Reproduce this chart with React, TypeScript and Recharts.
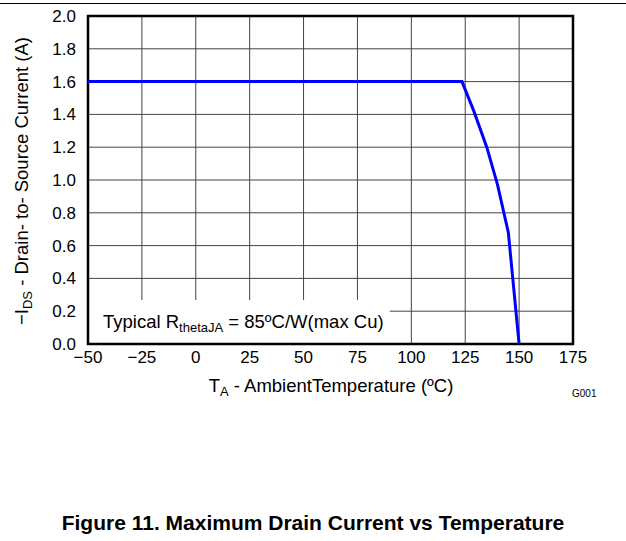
import { CartesianGrid, Line, LineChart, ReferenceArea, XAxis, YAxis } from "recharts"

const temperatures = [-50, 123.5, 129, 135, 140, 145, 150]
const drainCurrent = [1.6, 1.6, 1.42, 1.2, 0.97, 0.68, 0]
const xTicks = [-50, -25, 0, 25, 50, 75, 100, 125, 150, 175]
const yTicks = [0, 0.2, 0.4, 0.6, 0.8, 1.0, 1.2, 1.4, 1.6, 1.8, 2.0]

const data = temperatures.map((t, i) => ({ t, a: drainCurrent[i] }))

const font = "'Liberation Sans', Arial, Helvetica, sans-serif"

const fmtX = (v: number) => (v < 0 ? "\u2212" + Math.abs(v) : String(v))

export default function App() {
  return (
    <div style={{ position: "absolute", left: 0, top: 0, width: 626, height: 541, background: "#fff", fontFamily: font }}>
      <div style={{ position: "absolute", left: 0, top: 3, width: 626, height: 1, background: "#000" }} />
      <LineChart
        width={626}
        height={420}
        data={data}
        margin={{ top: 16, right: 53, left: 28, bottom: 46 }}
        style={{ position: "absolute", left: 0, top: 0 }}
      >
        <CartesianGrid stroke="#444" strokeWidth={1} />
        <XAxis
          dataKey="t"
          type="number"
          domain={[-50, 175]}
          ticks={xTicks}
          tickFormatter={fmtX}
          interval={0}
          height={30}
          tickLine={false}
          tickSize={0}
          tickMargin={7}
          axisLine={false}
          tick={{ fill: "#000", fontSize: 17, fontFamily: font }}
          label={{
            content: () => (
              <g>
                <text x={331} y={392} textAnchor="middle" fontSize={18.5} fontFamily={font} fill="#000">
                  T<tspan fontSize={13} dy={4}>A</tspan>
                  <tspan dy={-4}> - AmbientTemperature (ºC)</tspan>
                </text>
                <text x={572} y={397} fontSize={10} fontFamily={font} fill="#000">G001</text>
              </g>
            ),
          }}
        />
        <YAxis
          type="number"
          domain={[0, 2]}
          ticks={yTicks}
          tickFormatter={(v: number) => v.toFixed(1)}
          interval={0}
          width={60}
          tickLine={false}
          tickSize={0}
          tickMargin={12}
          axisLine={false}
          tick={{ fill: "#000", fontSize: 17, fontFamily: font }}
          label={{
            content: () => (
              <text
                x={0}
                y={0}
                transform="translate(28,181) rotate(-90)"
                textAnchor="middle"
                fontSize={18.5}
                fontFamily={font}
                fill="#000"
              >
                {"\u2212I"}
                <tspan fontSize={13} dy={4}>DS</tspan>
                <tspan dy={-4}> - Drain- to- Source Current (A)</tspan>
              </text>
            ),
          }}
        />
        <ReferenceArea
          x1={-50}
          x2={90}
          y1={0}
          y2={0.268}
          fill="#fff"
          fillOpacity={1}
          stroke="none"
          label={{
            content: (props: any) => {
              const vb = props.viewBox || { x: 88, y: 300 }
              return (
                <text x={vb.x + 15} y={vb.y + 28} fontSize={18.5} fontFamily={font} fill="#000">
                  Typical R<tspan fontSize={13} dy={4}>thetaJA</tspan>
                  <tspan dy={-4}> = 85ºC/W(max Cu)</tspan>
                </text>
              )
            },
          }}
        />
        <ReferenceArea x1={-50} x2={175} y1={0} y2={2} fill="none" stroke="#000" strokeWidth={2.5} />
        <Line
          dataKey="a"
          type="linear"
          stroke="#0000ff"
          strokeWidth={3}
          dot={false}
          activeDot={false}
          isAnimationActive={false}
        />
      </LineChart>
      <div
        style={{
          position: "absolute",
          left: 0,
          top: 512,
          width: 626,
          textAlign: "center",
          fontSize: 21,
          lineHeight: "21px",
          fontWeight: "bold",
          color: "#000",
        }}
      >
        Figure 11. Maximum Drain Current vs Temperature
      </div>
    </div>
  )
}
